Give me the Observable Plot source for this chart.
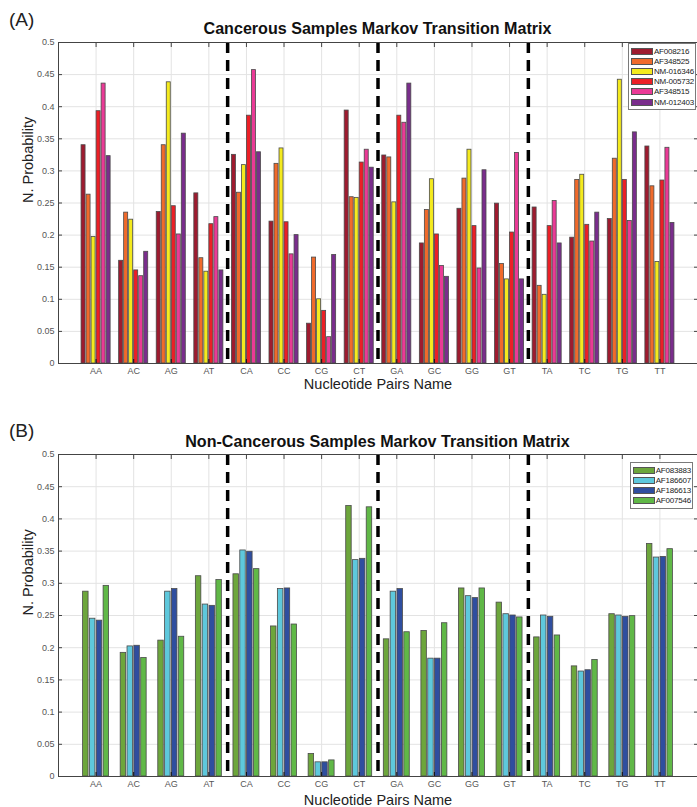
<!DOCTYPE html>
<html>
<head>
<meta charset="utf-8">
<script src="https://cdn.jsdelivr.net/npm/d3@7"></script>
<script src="https://cdn.jsdelivr.net/npm/@observablehq/plot@0.6"></script>
<style>
  body { margin: 0; background: #fff; font-family: "Liberation Sans", Arial, sans-serif; }
  #page { position: relative; width: 697px; height: 807px; overflow: hidden; }
  .abs { position: absolute; }
  .tag { font-size: 19px; color: #222; }
  .title { font-weight: bold; font-size: 16.1px; color: #111; left: 58px; width: 639px; text-align: center; }
  .legend { background: #fff; border: 1px solid #7a7a7a; padding: 2px 1px 2px 2px; z-index: 5; white-space: nowrap; }
  .legend .row { display: flex; align-items: center; height: 10.2px; font-size: 8px; color: #222; letter-spacing: -0.2px; }
  .legend .sw { width: 22px; height: 7px; border: 1px solid #555; margin-right: 1px; box-sizing: border-box; flex: none; }
</style>
</head>
<body>
<div id="page"></div>
<script>
// ---- data ----
const pairs = ["AA","AC","AG","AT","CA","CC","CG","CT","GA","GC","GG","GT","TA","TC","TG","TT"];
const yTicks = [0, 0.05, 0.1, 0.15, 0.2, 0.25, 0.3, 0.35, 0.4, 0.45, 0.5];

// Panel A: cancerous samples
const cancerSeries = ["AF008216","AF348525","NM-016346","NM-005732","AF348515","NM-012403"];
const cancerColors = ["#9E1B2F","#F06A2B","#F4EA1E","#EC1F26","#EA3A96","#7A2D8C"];
const af008216 = [0.340,0.160,0.236,0.265,0.325,0.221,0.062,0.394,0.324,0.187,0.241,0.249,0.243,0.196,0.225,0.338];
const af348525 = [0.263,0.235,0.340,0.164,0.266,0.311,0.165,0.259,0.321,0.239,0.288,0.155,0.121,0.286,0.319,0.276];
const nm016346 = [0.197,0.224,0.438,0.143,0.309,0.335,0.100,0.258,0.251,0.287,0.333,0.131,0.107,0.294,0.442,0.158];
const nm005732 = [0.393,0.145,0.245,0.217,0.386,0.220,0.082,0.313,0.386,0.201,0.214,0.204,0.214,0.216,0.286,0.285];
const af348515 = [0.436,0.136,0.201,0.228,0.457,0.170,0.041,0.333,0.375,0.152,0.148,0.328,0.253,0.190,0.222,0.336];
const nm012403 = [0.323,0.174,0.358,0.145,0.329,0.200,0.169,0.305,0.436,0.135,0.301,0.131,0.187,0.235,0.360,0.219];

// Panel B: non-cancerous samples
const normalSeries = ["AF083883","AF186607","AF186613","AF007546"];
const normalColors = ["#6DA63C","#5EC8DC","#2F4E9F","#60B847"];
const af083883 = [0.287,0.192,0.211,0.311,0.314,0.233,0.035,0.420,0.213,0.226,0.292,0.270,0.216,0.171,0.252,0.361];
const af186607 = [0.245,0.202,0.287,0.267,0.351,0.291,0.022,0.336,0.287,0.183,0.280,0.252,0.250,0.163,0.250,0.340];
const af186613 = [0.242,0.203,0.291,0.265,0.349,0.292,0.022,0.338,0.291,0.183,0.277,0.250,0.248,0.165,0.248,0.341];
const af007546 = [0.296,0.184,0.217,0.305,0.322,0.236,0.025,0.418,0.224,0.238,0.292,0.247,0.219,0.181,0.249,0.353];

// ---- drawing ----
const FONT = "Liberation Sans, Arial, sans-serif";
const page = document.getElementById("page");

function el(cls, text, style) {
  const d = document.createElement("div");
  d.className = "abs " + cls;
  if (text != null) d.textContent = text;
  Object.assign(d.style, style);
  page.appendChild(d);
  return d;
}

function panel({series, colors, values, top, height, marginTop, marginBottom, xLabelDy}) {
  const n = series.length;
  const groupWidth = Math.min(0.8, n / (n + 1.5));
  const slot = groupWidth / n;
  const rows = [];
  series.forEach((s, j) => values[j].forEach((v, i) => {
    const c = i + 1 - groupWidth / 2 + j * slot;
    rows.push({s, v, x1: c + slot * 0.1, x2: c + slot * 0.9});
  }));
  const centers = pairs.map((p, i) => i + 1);
  // separators where the first nucleotide changes
  const seps = pairs.slice(1).map((p, i) => p[0] !== pairs[i][0] ? i + 1.5 : null).filter(d => d !== null);
  const fmt = d => String(+d.toFixed(2));

  const svg = Plot.plot({
    width: 697,
    height,
    marginLeft: 58,
    marginRight: 0,
    marginTop,
    marginBottom,
    style: {fontFamily: FONT, fontSize: "9px", color: "#555", background: "transparent", overflow: "visible"},
    x: {domain: [0, pairs.length + 1]},
    y: {domain: [0, 0.5]},
    color: {domain: series, range: colors},
    marks: [
      Plot.gridY(yTicks, {stroke: "#e3e3e3", strokeOpacity: 1}),
      Plot.gridX(centers, {stroke: "#e3e3e3", strokeOpacity: 1}),
      Plot.rectY(rows, {x1: "x1", x2: "x2", y1: 0, y2: "v", fill: "s", stroke: "#4a4a4a", strokeWidth: 0.8}),
      Plot.ruleX(seps, {stroke: "#000", strokeWidth: 3.5, strokeDasharray: "11,7"}),
      Plot.frame({stroke: "#444", strokeWidth: 1}),
      Plot.axisY(yTicks, {tickSize: -4, tickPadding: 8, tickFormat: fmt, label: null, stroke: "#444"}),
      Plot.axisY(yTicks, {anchor: "right", tickSize: -4, tickFormat: () => "", label: null, stroke: "#444"}),
      Plot.axisX(centers, {tickSize: -4, tickPadding: 8, tickFormat: i => pairs[i - 1], label: null, stroke: "#111"}),
      Plot.axisX(centers, {anchor: "top", tickSize: -4, tickFormat: () => "", label: null, stroke: "#444"}),
      Plot.text(["N. Probability"], {text: d => d, frameAnchor: "left", rotate: -90, dx: -30, lineAnchor: "middle", fontSize: 14.5, fill: "#222"}),
      Plot.text(["Nucleotide Pairs Name"], {text: d => d, frameAnchor: "bottom", dy: xLabelDy, lineAnchor: "middle", fontSize: 14.5, fill: "#222"})
    ]
  });
  svg.style.position = "absolute";
  svg.style.left = "0px";
  svg.style.top = top + "px";
  page.appendChild(svg);
}

function legend(series, colors, right, top) {
  const box = el("legend", null, {right: right + "px", top: top + "px"});
  series.forEach((s, j) => {
    const row = document.createElement("div");
    row.className = "row";
    const sw = document.createElement("div");
    sw.className = "sw";
    sw.style.background = colors[j];
    const t = document.createElement("span");
    t.textContent = s;
    row.appendChild(sw);
    row.appendChild(t);
    box.appendChild(row);
  });
}

// Panel A
panel({series: cancerSeries, colors: cancerColors,
  values: [af008216, af348525, nm016346, nm005732, af348515, nm012403],
  top: 30, height: 368, marginTop: 12, marginBottom: 35, xLabelDy: 21});
el("tag", "(A)", {left: "9px", top: "9px"});
el("title", "Cancerous Samples Markov Transition Matrix", {top: "19px"});
legend(cancerSeries, cancerColors, 1, 43);

// Panel B
panel({series: normalSeries, colors: normalColors,
  values: [af083883, af186607, af186613, af007546],
  top: 444, height: 363, marginTop: 10, marginBottom: 31, xLabelDy: 24});
el("tag", "(B)", {left: "9px", top: "420px"});
el("title", "Non-Cancerous Samples Markov Transition Matrix", {top: "432px"});
legend(normalSeries, normalColors, 4, 462);
</script>
</body>
</html>
